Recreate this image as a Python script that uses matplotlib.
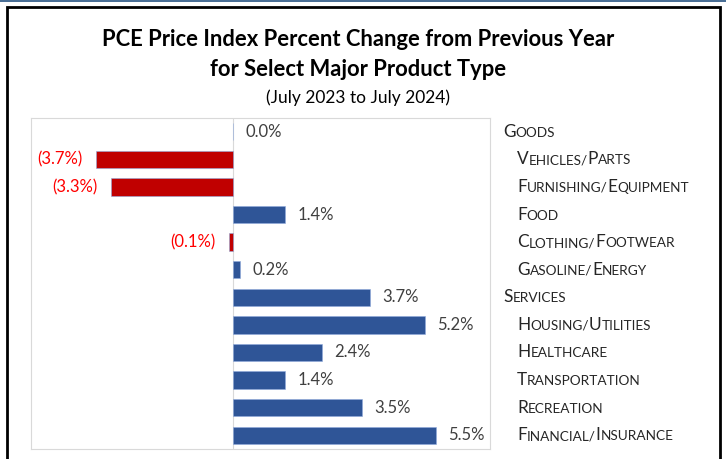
import matplotlib.pyplot as plt
from matplotlib.patches import Rectangle
from matplotlib.offsetbox import TextArea, HPacker, AnnotationBbox

plt.rcParams['font.family'] = ['Lato', 'DejaVu Sans']

# data
labels = ['Goods', 'Vehicles/Parts', 'Furnishing/Equipment', 'Food',
          'Clothing/Footwear', 'Gasoline/Energy', 'Services',
          'Housing/Utilities', 'Healthcare', 'Transportation',
          'Recreation', 'Financial/Insurance']
values = [0.0, -3.7, -3.3, 1.4, -0.1, 0.2, 3.7, 5.2, 2.4, 1.4, 3.5, 5.5]
is_header = [True, False, False, False, False, False, True,
             False, False, False, False, False]

W, H = 726, 459
fig = plt.figure(figsize=(W / 100, H / 100), dpi=100)

# outer decorations
fig.patches.append(Rectangle((0, 1 - 2 / H), 1, 2 / H, transform=fig.transFigure,
                             facecolor='#4a6f96', edgecolor='none'))
fig.patches.append(Rectangle((6.5 / W, -0.05), (720 - 6.5) / W, 1.05 - 7 / H,
                             transform=fig.transFigure, facecolor='none',
                             edgecolor='black', linewidth=2))

ax = fig.add_axes([31 / W, 10 / H, (490 - 31) / W, (449 - 118) / H])

y = list(range(len(values)))
colors = ['#C00000' if v < 0 else '#2F5597' for v in values]
ax.barh(y, values, height=0.63, color=colors, edgecolor='#8faadc', linewidth=0.4)
ax.axvline(0, color='#D9D9D9', linewidth=0.8, zorder=0)

ax.set_xlim(-5.47, 6.96)
ax.set_ylim(len(values) - 0.5, -0.5)
ax.set_xticks([])
ax.set_yticks([])
for s in ax.spines.values():
    s.set_color('#D9D9D9')
    s.set_linewidth(0.8)

# data labels
for yi, v in zip(y, values):
    if v < 0:
        ax.annotate(f'({abs(v):.1f}%)', (v, yi), xytext=(-10, 0),
                    textcoords='offset points', ha='right', va='center',
                    fontsize=12, color='#FF0000')
    else:
        ax.annotate(f'{v:.1f}%', (v, yi), xytext=(9, 0),
                    textcoords='offset points', ha='left', va='center',
                    fontsize=12, color='#404040')


# small caps category labels
def small_caps(text, big=12.4, small=9.8, color='#262626'):
    parts = []
    for ch in text:
        big_ch = ch.isupper()
        if parts and not big_ch and not parts[-1][1]:
            parts[-1][0] += ch
        elif parts and big_ch and parts[-1][1]:
            parts[-1][0] += ch
        else:
            parts.append([ch, big_ch])
    boxes = [TextArea(p.upper(), textprops=dict(fontsize=big if b else small,
                                                color=color))
             for p, b in parts]
    return HPacker(children=boxes, align='baseline', pad=0, sep=0)


trans = ax.get_yaxis_transform()
for yi, lab, hd in zip(y, labels, is_header):
    xpos = (503 - 31) / (490 - 31) if hd else (517 - 31) / (490 - 31)
    ab = AnnotationBbox(small_caps(lab), (xpos, yi), xycoords=trans,
                        box_alignment=(0, 0.5), frameon=False,
                        annotation_clip=False)
    ax.add_artist(ab)

# titles
fig.text(358 / W, 1 - 40 / H, 'PCE Price Index Percent Change from Previous Year',
         ha='center', va='center', fontsize=15.8, fontweight='bold')
fig.text(358 / W, 1 - 69 / H, 'for Select Major Product Type',
         ha='center', va='center', fontsize=15.8, fontweight='bold')
fig.text(358 / W, 1 - 98 / H, '(July 2023 to July 2024)',
         ha='center', va='center', fontsize=12.5)

fig.savefig('out.png', dpi=100)
